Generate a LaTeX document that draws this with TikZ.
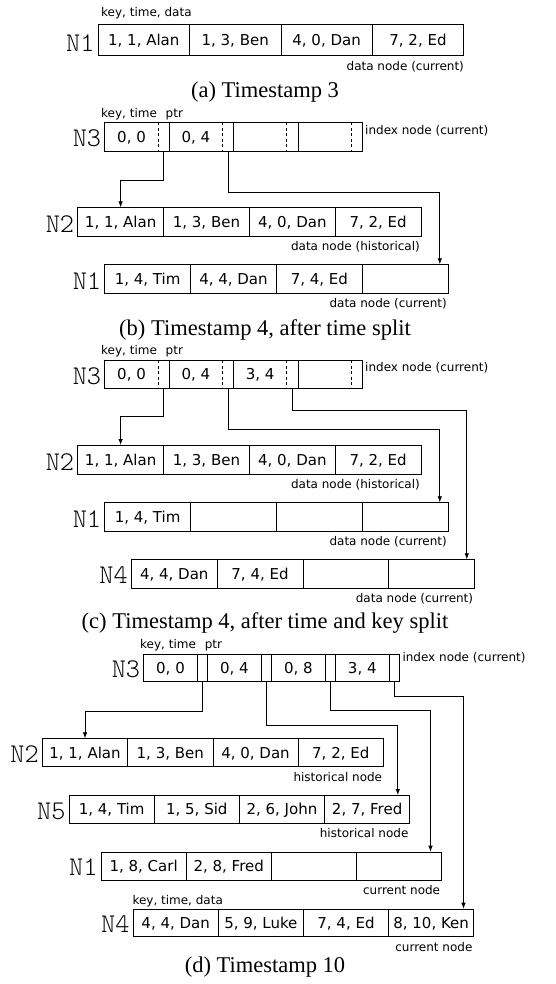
\documentclass[tikz,border=0pt]{standalone}
\usepackage{fontspec}
\setmainfont{Liberation Serif}
\newfontfamily\dvs{DejaVu Sans}
\newfontfamily\lmlight{Latin Modern Mono Light}
\usetikzlibrary{arrows.meta}
\tikzset{
  ln/.style={line width=0.8pt},
  cell/.style={ln, inner sep=0pt, anchor=north west, font=\dvs\fontsize{15}{18}\selectfont, text height=10.9pt, text depth=0pt},
  nolab/.style={font=\lmlight\fontsize{27}{27}\selectfont, anchor=base east, inner sep=0pt},
  small/.style={font=\dvs\fontsize{12}{14}\selectfont, inner sep=0pt},
  capt/.style={font=\fontsize{22.5}{24}\selectfont, inner sep=0pt, anchor=base},
  arr/.style={ln, -{Latex[length=6pt,width=4.5pt]}},
}
% data row: name, x, y(top), cell width, height, texts
\newcommand{\datarow}[6]{%
  \foreach \txt [count=\i from 0] in {#6}{%
    \node[cell, draw, minimum width=#4pt, minimum height=#5pt] (#1-\i) at ({#2+\i*#4},#3) {\txt};
  }%
}
% index row: name, x, y(top), key width, ptr width, height, texts ; dashed key/ptr dividers
\newcommand{\idxrow}[7]{%
  \foreach \txt [count=\i from 0] in {#7}{%
    \node[cell, minimum width=#4pt, minimum height=#6pt] (#1-k\i) at ({#2+\i*(#4+#5)},#3) {\txt};
    \node[cell, minimum width=#5pt, minimum height=#6pt] (#1-p\i) at ({#2+\i*(#4+#5)+#4},#3) {};
  }%
  \draw[ln] (#1-k0.north west) rectangle (#1-p3.south east);
  \foreach \i in {0,1,2}{\draw[ln] (#1-p\i.north east) -- (#1-p\i.south east);}
  \foreach \i in {0,1,2,3}{\draw[ln, dash pattern=on 3pt off 2.5pt] (#1-p\i.north west) -- (#1-p\i.south west);}
}
% index row, all solid
\newcommand{\idxrowsolid}[7]{%
  \foreach \txt [count=\i from 0] in {#7}{%
    \node[cell, draw, minimum width=#4pt, minimum height=#6pt] (#1-k\i) at ({#2+\i*(#4+#5)},#3) {\txt};
    \node[cell, draw, minimum width=#5pt, minimum height=#6pt] (#1-p\i) at ({#2+\i*(#4+#5)+#4},#3) {};
  }%
}
\newcommand{\ktp}{key, time\hspace{5pt} ptr}
\begin{document}
\begin{tikzpicture}[x=1pt,y=-1pt]
\useasboundingbox (0,0) rectangle (556,984);

% ---------------- (a)
\node[small, anchor=base west] (a-lab) at (101,16.5) {key, time, data};
\datarow{a1}{97.7}{24.3}{91.4}{30.7}{{1, 1, Alan},{1, 3, Ben},{4, 0, Dan},{7, 2, Ed}}
\node[nolab] (a1-n) at ([xshift=-3pt,yshift=4.6pt]a1-0.south west) {N1};
\node[small, anchor=base east] (a1-d) at ([yshift=-14.5pt]a1-3.south east) {data node (current)};
\node[capt] (a-cap) at (265,98) {(a) Timestamp 3};

% ---------------- (b)
\node[small, anchor=base west] (b-lab) at (101,118) {\ktp};
\idxrow{b3}{104.3}{122.5}{53.65}{10.7}{28.2}{{0, 0},{0, 4},{},{}}
\node[nolab] (b3-n) at ([xshift=-3pt,yshift=4.6pt]b3-k0.south west) {N3};
\node[small, anchor=base west] (b3-d) at (365,134.8) {index node (current)};
\datarow{b2}{77.3}{207.3}{85.85}{29}{{1, 1, Alan},{1, 3, Ben},{4, 0, Dan},{7, 2, Ed}}
\node[nolab] (b2-n) at ([xshift=-3pt,yshift=4.6pt]b2-0.south west) {N2};
\node[small, anchor=base east] (b2-d) at ([yshift=-13.8pt,xshift=-1.5pt]b2-3.south east) {data node (historical)};
\datarow{b1}{104.3}{264.3}{85.85}{29}{{1, 4, Tim},{4, 4, Dan},{7, 4, Ed},{}}
\node[nolab] (b1-n) at ([xshift=-3pt,yshift=4.6pt]b1-0.south west) {N1};
\node[small, anchor=base east] (b1-d) at ([yshift=-13.8pt,xshift=-1.5pt]b1-3.south east) {data node (current)};
\draw[arr] (b3-p0.south) -- ++(0,28.6) -| (b2-0.north);
\draw[arr] (b3-p1.south) -- ++(0,41) -| ([xshift=-8.7pt]b1-3.north east);
\node[capt] (b-cap) at (265,335) {(b) Timestamp 4, after time split};

% ---------------- (c)
\node[small, anchor=base west] (c-lab) at (101,354.8) {\ktp};
\idxrow{c3}{104.3}{360}{53.65}{10.7}{28}{{0, 0},{0, 4},{3, 4},{}}
\node[nolab] (c3-n) at ([xshift=-3pt,yshift=4.6pt]c3-k0.south west) {N3};
\node[small, anchor=base west] (c3-d) at (365,371.5) {index node (current)};
\datarow{c2}{77.3}{445}{85.85}{29}{{1, 1, Alan},{1, 3, Ben},{4, 0, Dan},{7, 2, Ed}}
\node[nolab] (c2-n) at ([xshift=-3pt,yshift=4.6pt]c2-0.south west) {N2};
\node[small, anchor=base east] (c2-d) at ([yshift=-13.8pt,xshift=-1.5pt]c2-3.south east) {data node (historical)};
\datarow{c1}{104.3}{502.3}{85.85}{28.7}{{1, 4, Tim},{},{},{}}
\node[nolab] (c1-n) at ([xshift=-3pt,yshift=4.6pt]c1-0.south west) {N1};
\node[small, anchor=base east] (c1-d) at ([yshift=-13.8pt,xshift=-1.5pt]c1-3.south east) {data node (current)};
\datarow{c4}{131}{559.3}{85.75}{28.4}{{4, 4, Dan},{7, 4, Ed},{},{}}
\node[nolab] (c4-n) at ([xshift=-3pt,yshift=4.6pt]c4-0.south west) {N4};
\node[small, anchor=base east] (c4-d) at ([yshift=-13.8pt,xshift=-1.5pt]c4-3.south east) {data node (current)};
\draw[arr] (c3-p0.south) -- ++(0,28) -| (c2-0.north);
\draw[arr] (c3-p1.south) -- ++(0,41) -| ([xshift=-8.7pt]c1-3.north east);
\draw[arr] (c3-p2.south) -- ++(0,21.3) -| ([xshift=-8pt]c4-3.north east);
\node[capt] (c-cap) at (265,628) {(c) Timestamp 4, after time and key split};

% ---------------- (d)
\node[small, anchor=base west] (d-lab) at (140,648.4) {\ktp};
\idxrowsolid{d3}{143.3}{653.7}{53.63}{10.3}{27.6}{{0, 0},{0, 4},{0, 8},{3, 4}}
\node[nolab] (d3-n) at ([xshift=-3pt,yshift=4.6pt]d3-k0.south west) {N3};
\node[small, anchor=base west] (d3-d) at (402.3,661.5) {index node (current)};
\datarow{d2}{42}{738.3}{85.25}{28}{{1, 1, Alan},{1, 3, Ben},{4, 0, Dan},{7, 2, Ed}}
\node[nolab] (d2-n) at ([xshift=-3pt,yshift=4.6pt]d2-0.south west) {N2};
\node[small, anchor=base east] (d2-d) at ([yshift=-14pt,xshift=-1.5pt]d2-3.south east) {historical node};
\datarow{d5}{68.7}{795}{85.15}{28}{{1, 4, Tim},{1, 5, Sid},{2, 6, John},{2, 7, Fred}}
\node[nolab] (d5-n) at ([xshift=-3pt,yshift=4.6pt]d5-0.south west) {N5};
\node[small, anchor=base east] (d5-d) at ([yshift=-14pt,xshift=-1.5pt]d5-3.south east) {historical node};
\datarow{d1}{100.7}{851.7}{85.08}{28}{{1, 8, Carl},{2, 8, Fred},{},{}}
\node[nolab] (d1-n) at ([xshift=-3pt,yshift=4.6pt]d1-0.south west) {N1};
\node[small, anchor=base east] (d1-d) at ([yshift=-14pt,xshift=-1.5pt]d1-3.south east) {current node};
\node[small, anchor=base west] (d4-lab) at (132.3,904.1) {key, time, data};
\datarow{d4}{132.7}{908.7}{85.15}{27.6}{{4, 4, Dan},{5, 9, Luke},{7, 4, Ed},{8, 10, Ken}}
\node[nolab] (d4-n) at ([xshift=-3pt,yshift=4.6pt]d4-0.south west) {N4};
\node[small, anchor=base east] (d4-d) at ([yshift=-14pt,xshift=-1.5pt]d4-3.south east) {current node};
\draw[arr] (d3-p0.south) -- ++(0,29) -| (d2-0.north);
\draw[arr] (d3-p1.south) -- ++(0,43.7) -| ([xshift=-12.3pt]d5-3.north east);
\draw[arr] (d3-p2.south) -- ++(0,28.7) -| ([xshift=-11.3pt]d1-3.north east);
\draw[arr] (d3-p3.south) -- ++(0,14.4) -| ([xshift=-10.6pt]d4-3.north east);
\node[capt] (d-cap) at (265,972) {(d) Timestamp 10};
\end{tikzpicture}
\end{document}
